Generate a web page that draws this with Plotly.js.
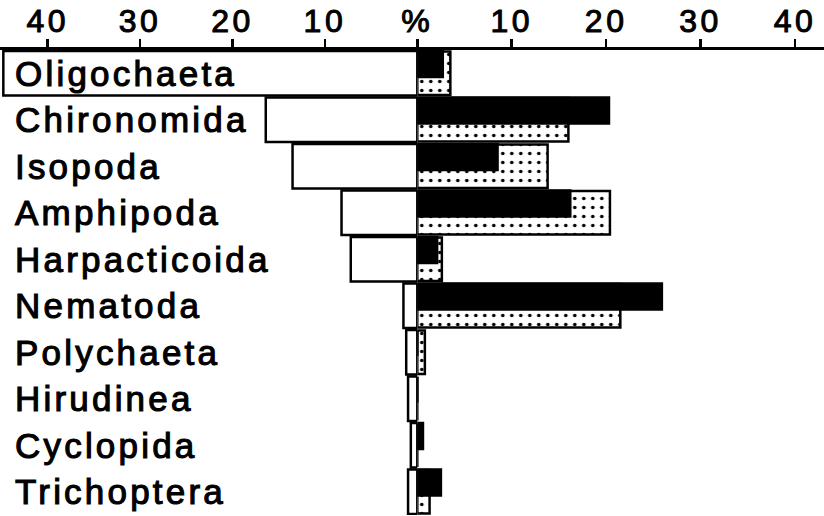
<!DOCTYPE html>
<html>
<head>
<meta charset="utf-8">
<script src="https://cdn.plot.ly/plotly-3.0.1.min.js"></script>
<style>
  html, body { margin: 0; padding: 0; background: #fff; }
  #chart { width: 824px; height: 516px; }
  .annotation-text { letter-spacing: 3.2px; stroke: #000; stroke-width: 1.1px; }
  g.xtick text, g.x2tick text { letter-spacing: 3.5px; stroke: #000; stroke-width: 1px; }
</style>
</head>
<body>
<div id="chart"></div>
<script>
// Categories (top to bottom)
const categories = ['Oligochaeta','Chironomida','Isopoda','Amphipoda','Harpacticoida',
                    'Nematoda','Polychaeta','Hirudinea','Cyclopida','Trichoptera'];
// Left side (white bars), percent
const leftValues   = [44.8, 16.4, 13.5, 8.2, 7.2, 1.5, 1.2, 1.0, 0.7, 1.0];
// Right side, black bars, percent
const blackValues  = [2.7, 20.3, 8.5, 16.2, 2.1, 25.9, 0, 0, 0.6, 2.5];
// Right side, dotted bars, percent
const dottedValues = [3.5, 16.0, 13.8, 20.4, 2.6, 21.5, 0.8, 0, 0, 1.3];
// Tick labels
const leftTickVals  = [-40, -30, -20, -10];
const leftTickText  = ['40', '30', '20', '10'];
const rightTickVals = [0, 10, 20, 30, 40];
const rightTickText = ['%', '10', '20', '30', '40'];

const ypos = categories.map((c, i) => i);
const outline = {color: '#000', width: 2.5};

const traces = [
  {
    type: 'bar', orientation: 'h', xaxis: 'x', yaxis: 'y',
    x: leftValues.map(v => -v), y: ypos, width: 0.96,
    marker: {color: '#fff', line: outline},
    hoverinfo: 'skip'
  },
  {
    type: 'bar', orientation: 'h', xaxis: 'x2', yaxis: 'y',
    x: dottedValues, y: ypos, width: 0.94, offset: -0.47,
    marker: {color: '#fff', line: outline,
             pattern: {shape: '.', fgcolor: '#000', bgcolor: '#fff', size: 9, solidity: 0.13}},
    hoverinfo: 'skip'
  },
  {
    type: 'bar', orientation: 'h', xaxis: 'x2', yaxis: 'y',
    x: blackValues, y: ypos, width: 0.56, offset: -0.48,
    marker: {color: '#000', line: outline},
    hoverinfo: 'skip'
  }
];

const zeroFrac = 417.3 / 824;
const tickFont = {family: 'Liberation Sans, Arial, sans-serif', size: 32, color: '#000'};

const axisCommon = {
  side: 'top', anchor: 'y', showgrid: false, zeroline: false,
  showline: true, linewidth: 3, linecolor: '#000',
  ticks: 'outside', ticklen: 8, tickwidth: 2.5, tickcolor: '#000',
  tickmode: 'array', tickfont: tickFont, ticklabelstandoff: -6, fixedrange: true
};

const annotations = categories.map((c, i) => ({
  xref: 'paper', yref: 'y', x: 13 / 824, y: i,
  xanchor: 'left', yanchor: 'middle', showarrow: false,
  text: c,
  font: {family: 'Liberation Sans, Arial, sans-serif', size: 35, color: '#000'}
}));

const layout = {
  width: 824, height: 516,
  margin: {l: 0, r: 0, t: 50, b: 1, pad: 0},
  paper_bgcolor: '#fff', plot_bgcolor: '#fff',
  showlegend: false, barmode: 'overlay',
  xaxis: Object.assign({}, axisCommon, {
    domain: [0, zeroFrac], range: [-45.16, 0],
    tickvals: leftTickVals, ticktext: leftTickText
  }),
  xaxis2: Object.assign({}, axisCommon, {
    domain: [zeroFrac, 1], range: [0, 43.07],
    tickvals: rightTickVals, ticktext: rightTickText
  }),
  yaxis: {range: [9.5, -0.5], visible: false, fixedrange: true},
  annotations: annotations
};

Plotly.newPlot('chart', traces, layout, {staticPlot: true, displayModeBar: false});
</script>
</body>
</html>
